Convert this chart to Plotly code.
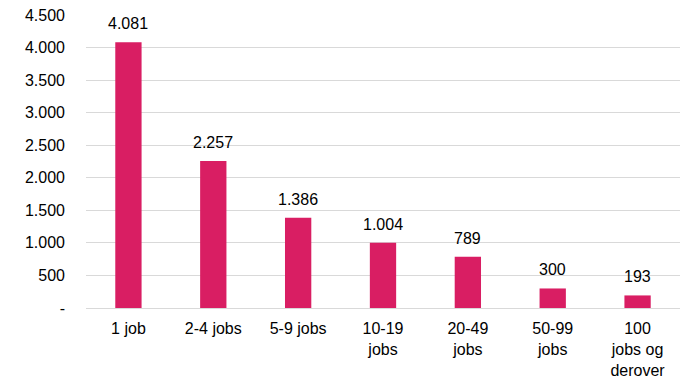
import plotly.graph_objects as go

categories = ["1 job", "2-4 jobs", "5-9 jobs", "10-19<br>jobs", "20-49<br>jobs", "50-99<br>jobs", "100<br>jobs og<br>derover"]
values = [4081, 2257, 1386, 1004, 789, 300, 193]
y_tickvals = [0, 500, 1000, 1500, 2000, 2500, 3000, 3500, 4000, 4500]
y_ticktext = ["-", "500", "1.000", "1.500", "2.000", "2.500", "3.000", "3.500", "4.000", "4.500"]

bar_color = "#D91E63"
labels = [f"{v:,}".replace(",", ".") for v in values]

fig = go.Figure(go.Bar(
    x=categories,
    y=values,
    marker=dict(color=bar_color, line=dict(width=0)),
    cliponaxis=False,
))

for c, v, t in zip(categories, values, labels):
    fig.add_annotation(
        x=c, y=v, text=t, showarrow=False,
        yanchor="bottom", yshift=8,
        font=dict(size=16, color="#000000"),
    )

fig.update_layout(
    width=700, height=383,
    margin=dict(l=86, r=20, t=15, b=75),
    paper_bgcolor="white", plot_bgcolor="white",
    font=dict(family="Liberation Sans, Arial, sans-serif", size=16, color="#000000"),
    bargap=0.69,
    showlegend=False,
)
fig.update_yaxes(
    range=[0, 4500], tickvals=y_tickvals, ticktext=y_ticktext,
    showgrid=True, gridcolor="#D9D9D9", gridwidth=1,
    zeroline=False, showline=False, ticks="", ticklabelstandoff=20,
    automargin=False,
)
fig.update_xaxes(
    showgrid=False, showline=True, linecolor="#D9D9D9", linewidth=1,
    ticks="", ticklabelstandoff=6, tickangle=0, automargin=False,
)

fig.write_html(
    "out.html",
    config={"displayModeBar": False},
    post_script="document.body.style.margin='0';",
)
